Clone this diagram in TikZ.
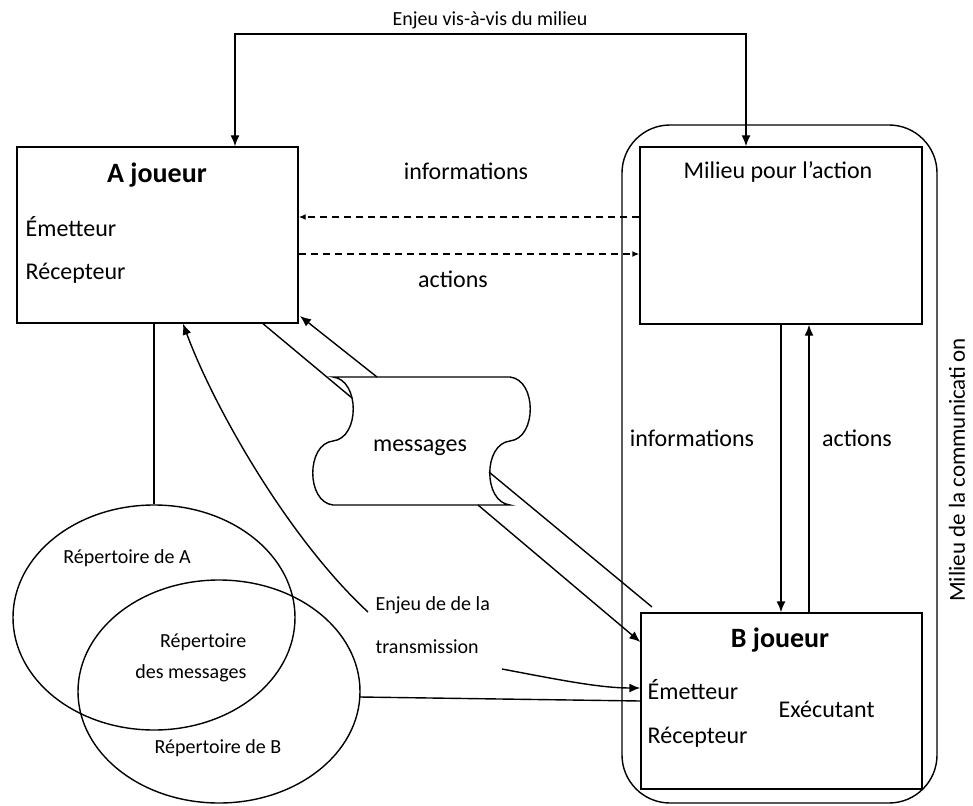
\documentclass[tikz,border=0pt]{standalone}
\usepackage{fontspec}
\setmainfont{Carlito}
\usetikzlibrary{arrows.meta,shapes.geometric}
\begin{document}
\begin{tikzpicture}[x=1pt,y=-1pt,
  line width=1.4pt,
  arr/.style={-{Latex[length=11pt,width=9pt]}},
  dblarr/.style={{Latex[length=11pt,width=9pt]}-{Latex[length=11pt,width=9pt]}},
  darr/.style={dash pattern=on 7pt off 5pt,-{Latex[length=7pt,width=6pt]}},
  txt/.style={font=\fontsize{24}{28}\selectfont, inner sep=0pt},
  vtxt/.style={font=\fontsize{23}{27}\selectfont, inner sep=0pt},
  stxt/.style={font=\fontsize{20}{24}\selectfont, inner sep=0pt},
  head/.style={font=\fontsize{28}{32}\selectfont\bfseries, inner sep=0pt},
  box/.style={draw, rectangle, inner sep=0pt},
  ell/.style={draw, ellipse, inner sep=0pt},
]
\useasboundingbox (0,0) rectangle (973,805);

% outer rounded frame
\node[draw, rounded corners=48pt, minimum width=315pt, minimum height=678pt] (comm) at (779.5,464) {};
\node[vtxt, rotate=90] (vt) at (957,470) {Milieu de la communicati\hspace{4pt}on};

% boxes
\node[box, minimum width=281pt, minimum height=176pt] (A) at (157.5,235) {};
\node[box, minimum width=282pt, minimum height=177pt] (Mil) at (781,235.5) {};
\node[box, minimum width=281pt, minimum height=176pt] (B) at (781.5,701) {};

% box texts
\node[head] (At) at (157,175) {A joueur};
\node[txt, anchor=west] (Ae) at (25,227) {Émetteur};
\node[txt, anchor=west] (Ar) at (25,273) {Récepteur};
\node[txt] (Mt) at (778,172) {Milieu pour l’action};
\node[head] (Bt) at (780,640) {B joueur};
\node[txt, anchor=west] (Be) at (647,690) {Émetteur};
\node[txt, anchor=west] (Br) at (647,737) {Récepteur};
\node[txt, anchor=west] (Bx) at (778,709) {Exécutant};

% ellipses
\node[ell, minimum width=282pt, minimum height=225pt] (eA) at (154,617.5) {};
\node[ell, minimum width=282pt, minimum height=223pt] (eB) at (219,691.5) {};
\node[stxt] (rA) at (127,558) {Répertoire de A};
\node[stxt, anchor=east] (rM1) at (247,642) {Répertoire};
\node[stxt, anchor=east] (rM2) at (247,673) {des messages};
\node[stxt] (rB) at (218,748) {Répertoire de B};

% messages tape
\draw (333,377) -- (510,377)
  .. controls (537,380) and (537,438) .. (510,441)
  .. controls (483,444) and (483,502) .. (510,505)
  -- (333,505)
  .. controls (306,502) and (306,444) .. (333,441)
  .. controls (360,438) and (360,380) .. (333,377) -- cycle;
\node[txt] (msg) at (420,448) {messages};

% labels
\node[stxt] (tl) at (490,20) {Enjeu vis-à-vis du milieu};
\node[txt] (info1) at (466,171) {informations};
\node[txt] (act1) at (453,279) {actions};
\node[txt] (info2) at (692,438) {informations};
\node[txt] (act2) at (857,438) {actions};
\node[stxt, anchor=west] (enj1) at (375,605) {Enjeu de de la};
\node[stxt, anchor=west] (enj2) at (375,647) {transmission};

% coordinates
\coordinate (t1) at (235,34);
\coordinate (t2) at (746,34);
\coordinate (d1) at (0,217);
\coordinate (d2) at (0,254);
\coordinate (v1) at (781,0);
\coordinate (v2) at (809,0);
\coordinate (a1) at (263,0);
\coordinate (a2) at (300,316);
\coordinate (m1) at (352,398);
\coordinate (m2) at (377,377);
\coordinate (m3) at (489,472);
\coordinate (m4) at (478,505);
\coordinate (b1) at (652,607);
\coordinate (b2) at (0,642);
\coordinate (e1) at (360,697);
\coordinate (e2) at (0,701);
\coordinate (c1) at (368,612);
\coordinate (c2) at (183,0);
\coordinate (c3) at (502,669);
\coordinate (c4) at (0,688);

% connectors
\draw[dblarr] (A.north -| t1) -- (t1) -- (t2) -- (Mil.north -| t2);
\draw[darr] (Mil.west |- d1) -- (A.east |- d1);
\draw[darr] (A.east |- d2) -- (Mil.west |- d2);
\draw[arr] (Mil.south -| v1) -- (B.north -| v1);
\draw[arr] (B.north -| v2) -- (Mil.south -| v2);
\draw (A.south -| eA.north) -- (eA.north);
\draw (e1) -- (B.west |- e2);
\draw (A.south -| a1) -- (m1);
\draw[arr] (m2) -- (a2);
\draw (m3) -- (b1);
\draw[arr] (m4) -- (B.west |- b2);
\draw[arr] (c1) .. controls (290,540) and (215,410) .. (A.south -| c2);
\draw[arr] (c3) .. controls (560,680) and (600,688) .. (B.west |- c4);
\end{tikzpicture}
\end{document}
